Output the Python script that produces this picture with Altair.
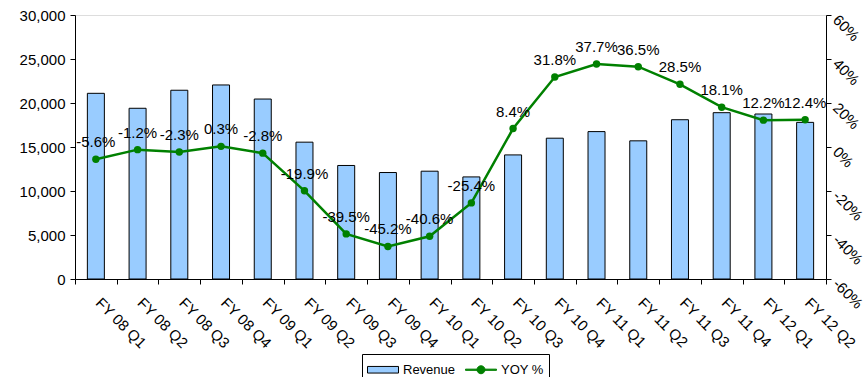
import altair as alt
import pandas as pd

quarters = ["FY 08 Q1", "FY 08 Q2", "FY 08 Q3", "FY 08 Q4", "FY 09 Q1", "FY 09 Q2",
            "FY 09 Q3", "FY 09 Q4", "FY 10 Q1", "FY 10 Q2", "FY 10 Q3", "FY 10 Q4",
            "FY 11 Q1", "FY 11 Q2", "FY 11 Q3", "FY 11 Q4", "FY 12 Q1", "FY 12 Q2"]
revenue = [21100, 19400, 21450, 22050, 20450, 15550, 12900, 12100, 12250, 11600,
           14100, 16000, 16750, 15700, 18100, 18900, 18750, 17800]
yoy = [-5.6, -1.2, -2.3, 0.3, -2.8, -19.9, -39.5, -45.2, -40.6, -25.4,
       8.4, 31.8, 37.7, 36.5, 28.5, 18.1, 12.2, 12.4]
left_ticks = [0, 5000, 10000, 15000, 20000, 25000, 30000]
right_ticks = [-60, -40, -20, 0, 20, 40, 60]
series_names = ["Revenue", "YOY %"]

BAR_FILL = "#99CCFF"
GREEN = "#008000"
FONT = "Liberation Sans"

df = pd.DataFrame({"quarter": quarters, "revenue": revenue, "yoy": yoy})
base = alt.Chart(df)

x_enc = alt.X(
    "quarter:N", sort=quarters, title=None,
    scale=alt.Scale(paddingInner=0, paddingOuter=0),
    axis=alt.Axis(labelAngle=45, labelAlign="left", labelBaseline="middle",
                  tickBand="extent", tickSize=5, labelPadding=16, labelOffset=2,
                  labelFont=FONT, labelFontSize=15, labelColor="black",
                  domainColor="black", tickColor="black", grid=False),
)

bars = base.mark_bar(size=17, fill=BAR_FILL, stroke="black", strokeWidth=1, opacity=1).encode(
    x=x_enc,
    y=alt.Y("revenue:Q", title=None,
            scale=alt.Scale(domain=[0, 30000], nice=False),
            axis=alt.Axis(values=left_ticks, labelExpr="format(datum.value, ',.0f')",
                          tickSize=5, labelPadding=5,
                          labelFont=FONT, labelFontSize=15, labelColor="black",
                          domainColor="black", tickColor="black", grid=False)),
)

y_scale = alt.Scale(domain=[-60, 60], nice=False)
right_axis = alt.Axis(orient="right", values=right_ticks,
                      labelExpr="(datum.value < 0 ? '-' : '') + format(abs(datum.value), 'd') + '%'",
                      labelAngle=45, labelAlign="left", labelBaseline="middle",
                      tickSize=5, labelPadding=4, labelOffset=2,
                      labelFont=FONT, labelFontSize=15, labelColor="black",
                      domainColor="black", tickColor="black", grid=False)
y2 = alt.Y("yoy:Q", title=None, scale=y_scale, axis=right_axis)

line = base.mark_line(strokeWidth=2.5, color=GREEN).encode(x=x_enc, y=y2)
points = base.mark_point(filled=True, size=55, color=GREEN, opacity=1).encode(x=x_enc, y=y2)
labels = base.transform_calculate(
    lbl="(datum.yoy < 0 ? '-' : '') + format(abs(datum.yoy), '.1f') + '%'"
).mark_text(dy=-17, font=FONT, fontSize=15, color="black").encode(x=x_enc, y=y2, text="lbl:N")

# legend carrier layer (no visible marks)
legend = alt.Legend(
    title=None, orient="none", direction="horizontal",
    legendX=287, legendY=339,
    strokeColor="black", fillColor="white", padding=5, cornerRadius=0,
    labelFont=FONT, labelFontSize=13, labelColor="black",
    symbolSize=400, symbolStrokeWidth=1, symbolOpacity=1,
    labelOffset=15, columnPadding=7,
)
rect_path = "M-1,-0.33H2.1V0.33H-1Z"
line_dot_path = ("M-1,-0.06H2.1V0.06H-1Z M0.95,0A0.4,0.4 0 1,1 0.15,0"
                 "A0.4,0.4 0 1,1 0.95,0Z")
legend_layer = base.transform_calculate(series="'Revenue'").transform_filter("false").mark_point(
    filled=True, opacity=1
).encode(
    x=x_enc, y=y2,
    fill=alt.Fill("series:N", scale=alt.Scale(domain=series_names, range=[BAR_FILL, GREEN]), legend=legend),
    stroke=alt.Stroke("series:N", scale=alt.Scale(domain=series_names, range=["black", GREEN]), legend=legend),
    shape=alt.Shape("series:N", scale=alt.Scale(domain=series_names, range=[rect_path, line_dot_path]), legend=legend),
)

right = alt.layer(line, points, labels, legend_layer)

chart = alt.layer(bars, right).resolve_scale(y="independent").properties(
    width=751, height=264,
    autosize=alt.AutoSizeParams(type="none"),
    padding={"left": 75, "top": 15, "right": 42, "bottom": 98},
).configure_view(stroke=None).configure(background="white")

chart.save("out.html", embed_options={"renderer": "svg", "actions": False})
